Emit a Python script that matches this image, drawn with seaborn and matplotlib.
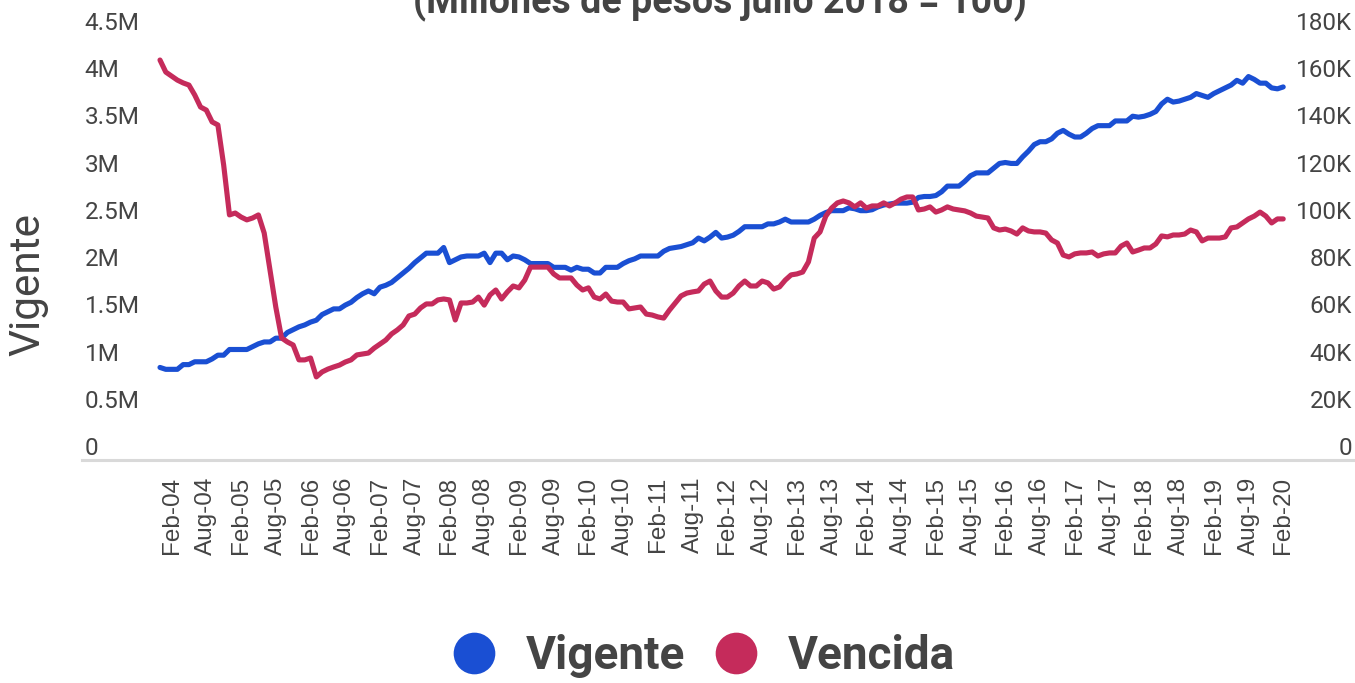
import numpy as np
import pandas as pd
import matplotlib
matplotlib.use("Agg")
import matplotlib.pyplot as plt
from matplotlib.lines import Line2D
import seaborn as sns

# ─────────────────────────────────────────────
# DATA  (monthly, Dec-2003 .. Feb-2020)
# ─────────────────────────────────────────────
START = "2003-12-01"

# Cartera vigente, millones de pesos (shown as "M")
vigente = [
    0.98, 0.96, 0.96, 0.96, 1.01, 1.01, 1.04, 1.04, 1.04, 1.07,
    1.11, 1.11, 1.17, 1.17, 1.17, 1.17, 1.20, 1.23, 1.25, 1.25,
    1.29, 1.29, 1.35, 1.38, 1.41, 1.43, 1.46, 1.48, 1.54, 1.57,
    1.60, 1.60, 1.64, 1.67, 1.72, 1.76, 1.79, 1.76, 1.83, 1.85,
    1.88, 1.93, 1.98, 2.03, 2.09, 2.14, 2.19, 2.19, 2.19, 2.25,
    2.09, 2.12, 2.15, 2.16, 2.16, 2.16, 2.19, 2.09, 2.19, 2.19,
    2.12, 2.16, 2.15, 2.12, 2.08, 2.08, 2.08, 2.08, 2.04, 2.04,
    2.04, 2.01, 2.04, 2.02, 2.02, 1.98, 1.98, 2.04, 2.04, 2.04,
    2.08, 2.11, 2.13, 2.16, 2.16, 2.16, 2.16, 2.21, 2.24, 2.25,
    2.26, 2.28, 2.30, 2.35, 2.32, 2.36, 2.41, 2.35, 2.36, 2.38,
    2.42, 2.47, 2.47, 2.47, 2.47, 2.50, 2.50, 2.52, 2.55, 2.52,
    2.52, 2.52, 2.52, 2.55, 2.59, 2.62, 2.64, 2.64, 2.64, 2.67,
    2.66, 2.64, 2.64, 2.65, 2.68, 2.70, 2.71, 2.72, 2.72, 2.72,
    2.73, 2.78, 2.79, 2.79, 2.80, 2.84, 2.90, 2.90, 2.90, 2.95,
    3.01, 3.04, 3.04, 3.04, 3.09, 3.14, 3.15, 3.14, 3.14, 3.21,
    3.27, 3.34, 3.37, 3.37, 3.40, 3.46, 3.49, 3.45, 3.42, 3.42,
    3.46, 3.51, 3.54, 3.54, 3.54, 3.59, 3.59, 3.59, 3.64, 3.63,
    3.64, 3.66, 3.69, 3.77, 3.82, 3.79, 3.80, 3.82, 3.84, 3.88,
    3.86, 3.84, 3.88, 3.91, 3.94, 3.97, 4.02, 3.99, 4.06, 4.03,
    3.99, 3.99, 3.94, 3.93, 3.95,
]

# Cartera vencida, miles (shown as "K")
vencida = [
    169.4, 164.3, 162.6, 160.9, 159.7, 158.8, 154.6, 149.5, 148.2, 143.2,
    141.9, 124.9, 103.8, 104.6, 102.9, 101.7, 102.5, 103.8, 96.1, 80.5,
    64.8, 51.7, 50.0, 48.7, 42.4, 42.4, 43.2, 35.2, 37.3, 38.5,
    39.4, 40.2, 41.5, 42.4, 44.5, 44.9, 45.3, 47.4, 49.1, 50.8,
    53.4, 55.1, 57.2, 61.0, 61.8, 64.4, 66.1, 66.1, 67.8, 68.2,
    67.8, 59.3, 66.5, 66.5, 66.9, 69.0, 65.6, 69.9, 72.0, 68.2,
    71.2, 73.7, 72.9, 76.2, 81.7, 81.7, 81.7, 81.7, 78.8, 77.1,
    77.1, 77.1, 74.1, 72.0, 72.9, 69.0, 68.2, 70.3, 67.3, 66.9,
    66.9, 64.0, 64.4, 64.8, 61.8, 61.4, 60.6, 60.1, 63.5, 66.5,
    69.5, 70.7, 71.2, 71.6, 74.5, 75.8, 71.6, 69.0, 69.0, 70.7,
    73.7, 75.8, 73.7, 73.7, 75.8, 75.0, 72.4, 73.3, 76.2, 78.4,
    78.8, 79.6, 83.9, 94.0, 96.6, 103.3, 106.7, 108.9, 109.7, 108.9,
    107.2, 108.9, 106.7, 107.6, 107.6, 108.9, 107.6, 108.9, 110.5, 111.4,
    111.4, 105.9, 106.3, 107.2, 105.0, 105.9, 107.2, 106.3, 105.9, 105.5,
    104.6, 103.3, 102.9, 102.5, 98.3, 97.4, 97.8, 97.0, 95.7, 98.3,
    97.0, 96.6, 96.6, 96.1, 93.2, 91.9, 86.8, 86.0, 87.3, 87.7,
    87.7, 88.1, 86.4, 87.3, 87.7, 87.7, 90.6, 91.9, 88.1, 88.9,
    89.8, 89.8, 91.5, 94.9, 94.5, 95.3, 95.3, 95.7, 97.4, 96.6,
    92.8, 94.0, 94.0, 94.0, 94.5, 98.3, 98.7, 100.4, 102.1, 103.3,
    105.0, 103.3, 100.4, 102.1, 102.1,
]

left_ticks = [0, 0.5, 1, 1.5, 2, 2.5, 3, 3.5, 4, 4.5]
left_labels = ["0", "0.5M", "1M", "1.5M", "2M", "2.5M", "3M", "3.5M", "4M", "4.5M"]
right_ticks = [0, 20, 40, 60, 80, 100, 120, 140, 160, 180]
right_labels = ["0", "20K", "40K", "60K", "80K", "100K", "120K", "140K", "160K", "180K"]

TITLE = "(Millones de pesos julio 2018 = 100)"
BLUE = "#1a4fd3"
RED = "#c52b5b"
TXT = "#444444"

months = pd.date_range(START, periods=len(vigente), freq="MS")
df = pd.DataFrame({"idx": np.arange(len(months)),
                   "Vigente": vigente, "Vencida": vencida})
tick_idx = list(range(2, len(months), 6))
tick_labels = [months[i].strftime("%b-%y") for i in tick_idx]

# ─────────────────────────────────────────────
# FIGURE
# ─────────────────────────────────────────────
sns.set_theme(style="white")
plt.rcParams["font.family"] = ["Roboto", "DejaVu Sans"]

W, H = 1355, 683
fig = plt.figure(figsize=(W / 100, H / 100), dpi=100)
ax = fig.add_axes([82 / W, (H - 460) / H, 1 - 82 / W, 425 / H])
ax2 = ax.twinx()

line_kw = dict(linewidth=3.7, solid_joinstyle="round", solid_capstyle="round")
sns.lineplot(data=df, x="idx", y="Vigente", ax=ax, color=BLUE, **line_kw)
sns.lineplot(data=df, x="idx", y="Vencida", ax=ax2, color=RED, **line_kw)

ax.set_xlim(-13.47, 206.4)
ax.set_ylim(0, 4.5)
ax2.set_ylim(0, 180)
for a in (ax, ax2):
    a.set_xlabel("")
    a.set_ylabel("")
    for s in a.spines.values():
        s.set_visible(False)
ax.spines["bottom"].set_visible(True)
ax.spines["bottom"].set_color("#d9d9d9")
ax.spines["bottom"].set_linewidth(2.2)

# x ticks
ax.set_xticks(tick_idx)
ax.set_xticklabels(tick_labels, rotation=90, fontfamily="Liberation Sans",
                   fontsize=17.5, color=TXT)
ax.tick_params(axis="x", length=0, pad=12)

# y ticks (drawn inside the plot, above their line)
ax.set_yticks(left_ticks)
ax.set_yticklabels(left_labels)
ax.tick_params(axis="y", length=0, pad=-2, labelsize=17.5, labelcolor=TXT)
for t in ax.get_yticklabels():
    t.set_ha("left")
    t.set_va("bottom")

ax2.set_yticks(right_ticks)
ax2.set_yticklabels(right_labels)
ax2.tick_params(axis="y", length=0, pad=-2, labelsize=17.5, labelcolor=TXT)
for t in ax2.get_yticklabels():
    t.set_ha("right")
    t.set_va("bottom")

# axis title + chart title (cut off at the top, like the source)
fig.text(28 / W, 1 - 285 / H, "Vigente", rotation=90, ha="center", va="center",
         fontsize=30.5, color=TXT)
fig.text(720 / W, 1 - 13 / H, TITLE, ha="center", va="baseline",
         fontsize=27, fontweight="bold", color=TXT)

# legend
handles = [Line2D([], [], marker="o", ls="", markersize=30, color=BLUE, markeredgewidth=0),
           Line2D([], [], marker="o", ls="", markersize=30, color=RED, markeredgewidth=0)]
leg = fig.legend(handles, ["Vigente", "Vencida"], loc="center",
                 bbox_to_anchor=(703 / W, 1 - 656 / H), ncol=2, frameon=False,
                 handlelength=1.0, handletextpad=0.62, columnspacing=0.62,
                 borderpad=0, borderaxespad=0,
                 prop={"family": "Roboto", "weight": "bold", "size": 33})
for t in leg.get_texts():
    t.set_color(TXT)

fig.savefig("out.png", dpi=100)
